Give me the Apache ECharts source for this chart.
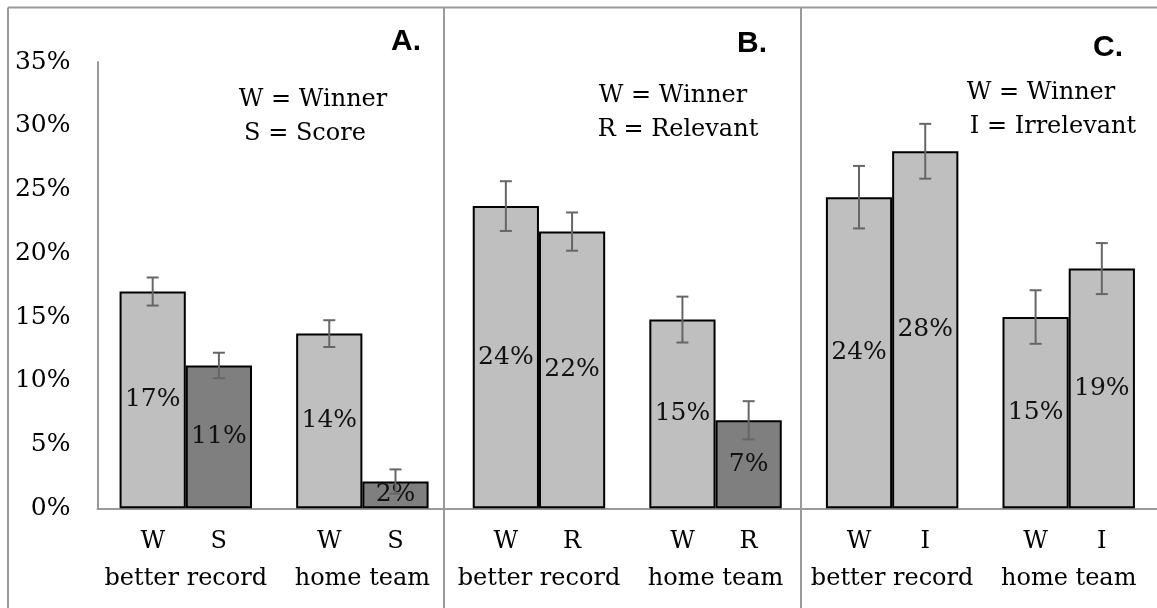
<!DOCTYPE html>
<html>
<head>
<meta charset="utf-8">
<script src="https://cdn.jsdelivr.net/npm/echarts@6/dist/echarts.min.js"></script>
<style>
  html, body { margin: 0; padding: 0; background: #fff; }
  #chart { width: 1157px; height: 608px; }
</style>
</head>
<body>
<div id="chart"></div>
<script>
// Groups along the bottom axis (three panels, two groups each)
const groupNames = ['better record', 'home team', 'better record', 'home team', 'better record', 'home team'];
// Short tags printed under each bar of a group
const barTags = [['W', 'S'], ['W', 'S'], ['W', 'R'], ['W', 'R'], ['W', 'I'], ['W', 'I']];

// Percent choosing the winner, and the second cue (Score / Relevant / Irrelevant)
const winnerValues = [17.0, 13.7, 23.7, 14.8, 24.4, 15.0];
const secondValues = [11.2, 2.1, 21.7, 6.9, 28.0, 18.8];
// Half-width of the error bars, in percentage points
const winnerErrors = [1.1, 1.05, 1.95, 1.8, 2.45, 2.1];
const secondErrors = [1.0, 0.95, 1.5, 1.5, 2.15, 2.0];
// Whether the second bar in a group is shaded dark
const secondDark = [true, true, false, true, false, false];

// Y axis ticks
const yTicks = [0, 5, 10, 15, 20, 25, 30, 35];

// Panel notes
const panelLetters = ['A.', 'B.', 'C.'];
const panelNotes = [['W = Winner', 'S = Score'], ['W = Winner', 'R = Relevant'], ['W = Winner', 'I = Irrelevant']];

const LIGHT = '#bfbfbf';
const DARK = '#7f7f7f';
const FRAME = '#9a9a9a';
const SERIF = '"DejaVu Serif", serif';

const chart = echarts.init(document.getElementById('chart'), null, { renderer: 'canvas' });

function errorSeries(values, errors, side) {
  return {
    type: 'custom',
    z: 5,
    silent: true,
    data: values.map((v, i) => [i, v - errors[i], v + errors[i]]),
    encode: { x: 0, y: [1, 2] },
    renderItem: function (params, api) {
      const band = api.size([1, 0])[0];
      const dx = side * band * 0.1875;
      const lo = api.coord([api.value(0), api.value(1)]);
      const hi = api.coord([api.value(0), api.value(2)]);
      const x = lo[0] + dx;
      const cap = 6;
      const st = { stroke: '#666666', lineWidth: 2 };
      return {
        type: 'group',
        children: [
          { type: 'line', shape: { x1: x, y1: lo[1], x2: x, y2: hi[1] }, style: st },
          { type: 'line', shape: { x1: x - cap, y1: lo[1], x2: x + cap, y2: lo[1] }, style: st },
          { type: 'line', shape: { x1: x - cap, y1: hi[1], x2: x + cap, y2: hi[1] }, style: st }
        ]
      };
    }
  };
}

const barLabel = {
  show: true,
  position: 'inside',
  color: '#111',
  fontFamily: SERIF,
  fontSize: 25,
  formatter: p => Math.round(p.value) + '%'
};

// Panel frame and notes
const graphics = [
  { type: 'line', shape: { x1: 8, y1: 7.5, x2: 1157, y2: 7.5 }, style: { stroke: FRAME, lineWidth: 2 } },
  { type: 'line', shape: { x1: 8, y1: 7.5, x2: 8, y2: 608 }, style: { stroke: FRAME, lineWidth: 2 } },
  { type: 'line', shape: { x1: 444, y1: 7.5, x2: 444, y2: 608 }, style: { stroke: FRAME, lineWidth: 2 } },
  { type: 'line', shape: { x1: 801, y1: 7.5, x2: 801, y2: 608 }, style: { stroke: FRAME, lineWidth: 2 } }
];
const letterPos = [[421, 42], [767, 44], [1123, 48]];
const notePos = [
  [[313, 100], [305, 134]],
  [[673, 96], [678, 130]],
  [[1041, 93], [1053, 127]]
];
panelLetters.forEach((t, i) => {
  graphics.push({
    type: 'text', x: letterPos[i][0], y: letterPos[i][1],
    style: { text: t, fill: '#000', font: 'bold 30px "Liberation Sans", sans-serif', textAlign: 'right', textVerticalAlign: 'middle' }
  });
  panelNotes[i].forEach((line, j) => {
    graphics.push({
      type: 'text', x: notePos[i][j][0], y: notePos[i][j][1],
      style: { text: line, fill: '#000', font: '24px ' + SERIF, textAlign: 'center', textVerticalAlign: 'middle' }
    });
  });
});

const option = {
  animation: false,
  backgroundColor: '#fff',
  grid: { left: 97.5, top: 62, width: 1062, height: 446.3, containLabel: false },
  xAxis: {
    type: 'category',
    data: groupNames,
    axisLine: { show: true, lineStyle: { color: FRAME, width: 2 } },
    axisTick: { show: false },
    axisLabel: {
      interval: 0,
      margin: 15,
      color: '#000',
      fontFamily: SERIF,
      fontSize: 24,
      formatter: function (value, idx) {
        const t = barTags[idx];
        return '{t|' + t[0] + '}{t|' + t[1] + '}\n{g|' + value + '}';
      },
      rich: {
        t: { width: 66, align: 'center', fontFamily: SERIF, fontSize: 24, lineHeight: 37, color: '#000' },
        g: { fontFamily: SERIF, fontSize: 24, lineHeight: 37, color: '#000' }
      }
    }
  },
  yAxis: {
    type: 'value',
    min: yTicks[0],
    max: yTicks[yTicks.length - 1],
    interval: 5,
    splitLine: { show: false },
    axisTick: { show: false },
    axisLine: { show: true, lineStyle: { color: FRAME, width: 2 } },
    axisLabel: { margin: 27, color: '#000', fontFamily: SERIF, fontSize: 25, formatter: '{value}%' }
  },
  series: [
    {
      name: 'W',
      type: 'bar',
      barGap: '0%',
      barCategoryGap: '25%',
      data: winnerValues,
      itemStyle: { color: LIGHT, borderColor: '#000', borderWidth: 2 },
      label: barLabel
    },
    {
      name: 'second',
      type: 'bar',
      data: secondValues.map((v, i) => ({ value: v, itemStyle: { color: secondDark[i] ? DARK : LIGHT } })),
      itemStyle: { color: LIGHT, borderColor: '#000', borderWidth: 2 },
      label: barLabel
    },
    errorSeries(winnerValues, winnerErrors, -1),
    errorSeries(secondValues, secondErrors, 1)
  ],
  graphic: graphics
};

chart.setOption(option);
</script>
</body>
</html>
